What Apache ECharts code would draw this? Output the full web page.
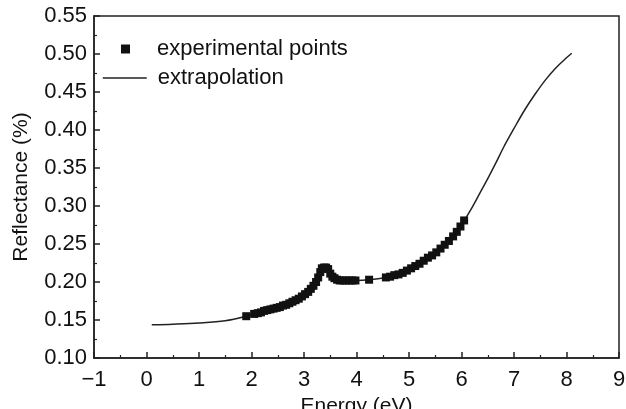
<!DOCTYPE html>
<html><head><meta charset="utf-8">
<script src="https://cdn.jsdelivr.net/npm/echarts@6/dist/echarts.min.js"></script>
<style>html,body{margin:0;padding:0;background:#fff}#c{width:626px;height:409px}</style>
</head><body><div id="c"></div>
<script>
// Experimental points (Energy eV, Reflectance)
var expX = [1.90,2.05,2.12,2.18,2.24,2.30,2.36,2.42,2.48,2.54,2.60,2.66,2.72,2.78,2.84,2.90,2.96,3.02,3.08,3.13,3.18,3.23,3.27,3.31,3.34,3.38,3.42,3.46,3.50,3.54,3.58,3.63,3.68,3.74,3.80,3.86,3.92,3.98,4.24,4.56,4.64,4.72,4.80,4.88,4.96,5.04,5.12,5.20,5.28,5.36,5.44,5.52,5.60,5.68,5.76,5.84,5.91,5.98,6.05];
var expY = [0.155,0.158,0.159,0.160,0.162,0.163,0.164,0.165,0.166,0.167,0.169,0.170,0.172,0.174,0.176,0.178,0.181,0.184,0.187,0.191,0.195,0.200,0.206,0.213,0.218,0.219,0.219,0.217,0.211,0.207,0.205,0.203,0.202,0.202,0.202,0.202,0.202,0.202,0.203,0.206,0.207,0.209,0.210,0.212,0.215,0.218,0.221,0.224,0.228,0.232,0.235,0.239,0.244,0.249,0.254,0.260,0.266,0.273,0.281];
// Extrapolation curve
var lineX = [0.10,0.50,1.00,1.50,1.90,2.30,2.70,3.00,3.20,3.30,3.40,3.50,3.60,3.80,4.00,4.24,4.56,4.80,5.00,5.20,5.40,5.60,5.80,6.05,6.20,6.35,6.50,6.65,6.80,7.00,7.20,7.40,7.60,7.80,8.00,8.10];
var lineY = [0.1438,0.1445,0.1460,0.1490,0.1550,0.1630,0.1715,0.1830,0.1970,0.2130,0.2190,0.2110,0.2040,0.2020,0.2020,0.2030,0.2060,0.2100,0.2160,0.2240,0.2335,0.2440,0.2570,0.2810,0.2980,0.3170,0.3360,0.3560,0.3770,0.4020,0.4260,0.4470,0.4660,0.4820,0.4950,0.5010];
var xTicks = {min: -1, max: 9, interval: 1};
var yTicks = {min: 0.10, max: 0.55, interval: 0.05};

var font = 'Liberation Sans, Arial, sans-serif';
var ink = '#111';
var chart = echarts.init(document.getElementById('c'), null, {renderer: 'canvas'});
chart.setOption({
  animation: false,
  backgroundColor: '#fff',
  grid: {left: 94, right: 7, top: 16, bottom: 51, show: true, borderColor: '#222', borderWidth: 1.5,
    containLabel: false, outerBoundsMode: 'none'},
  legend: [{
    data: [{name: 'experimental points', icon: 'rect'}],
    left: 116, top: 31, padding: 5, itemWidth: 9, itemHeight: 9,
    textStyle: {fontFamily: font, fontSize: 22, color: ink, padding: [0,0,0,22], lineHeight: 26}
  },{
    data: [{name: 'extrapolation'}],
    left: 102, top: 65, padding: 0, itemWidth: 44, itemHeight: 14,
    itemStyle: {opacity: 0},
    lineStyle: {color: '#222', width: 1.5},
    textStyle: {fontFamily: font, fontSize: 22, color: ink, padding: [0,0,0,6], lineHeight: 26}
  }],
  xAxis: {
    type: 'value', min: xTicks.min, max: xTicks.max, interval: xTicks.interval,
    name: 'Energy (eV)', nameLocation: 'middle', nameGap: 28,
    nameTextStyle: {fontFamily: font, fontSize: 21, color: ink},
    axisLine: {onZero: false, lineStyle: {color: '#222', width: 1.5}},
    axisTick: {inside: true, length: 6, lineStyle: {color: '#222', width: 1.5}},
    minorTick: {show: true, splitNumber: 2, length: 3, lineStyle: {color: '#222', width: 1.2}},
    splitLine: {show: false},
    axisLabel: {fontFamily: font, fontSize: 22, color: ink, margin: 11,
      formatter: function(v){ return String(v).replace('-', '\u2212'); }}
  },
  yAxis: {
    type: 'value', min: yTicks.min, max: yTicks.max, interval: yTicks.interval,
    name: 'Reflectance (%)', nameLocation: 'middle', nameGap: 62,
    nameTextStyle: {fontFamily: font, fontSize: 21, color: ink},
    axisLine: {onZero: false, lineStyle: {color: '#222', width: 1.5}},
    axisTick: {inside: true, length: 6, lineStyle: {color: '#222', width: 1.5}},
    minorTick: {show: true, splitNumber: 2, length: 3, lineStyle: {color: '#222', width: 1.2}},
    splitLine: {show: false},
    axisLabel: {fontFamily: font, fontSize: 22, color: ink, margin: 7,
      formatter: function(v){ return v.toFixed(2); }}
  },
  series: [{
    name: 'extrapolation', type: 'line', smooth: 0.35, symbol: 'none', showSymbol: false,
    data: lineX.map(function(x,i){ return [x, lineY[i]]; }),
    lineStyle: {color: '#222', width: 1.5}, itemStyle: {color: '#222'}, z: 2
  },{
    name: 'experimental points', type: 'scatter', symbol: 'rect', symbolSize: 8,
    data: expX.map(function(x,i){ return [x, expY[i]]; }),
    itemStyle: {color: '#111', opacity: 1}, z: 3
  }]
});
</script></body></html>
